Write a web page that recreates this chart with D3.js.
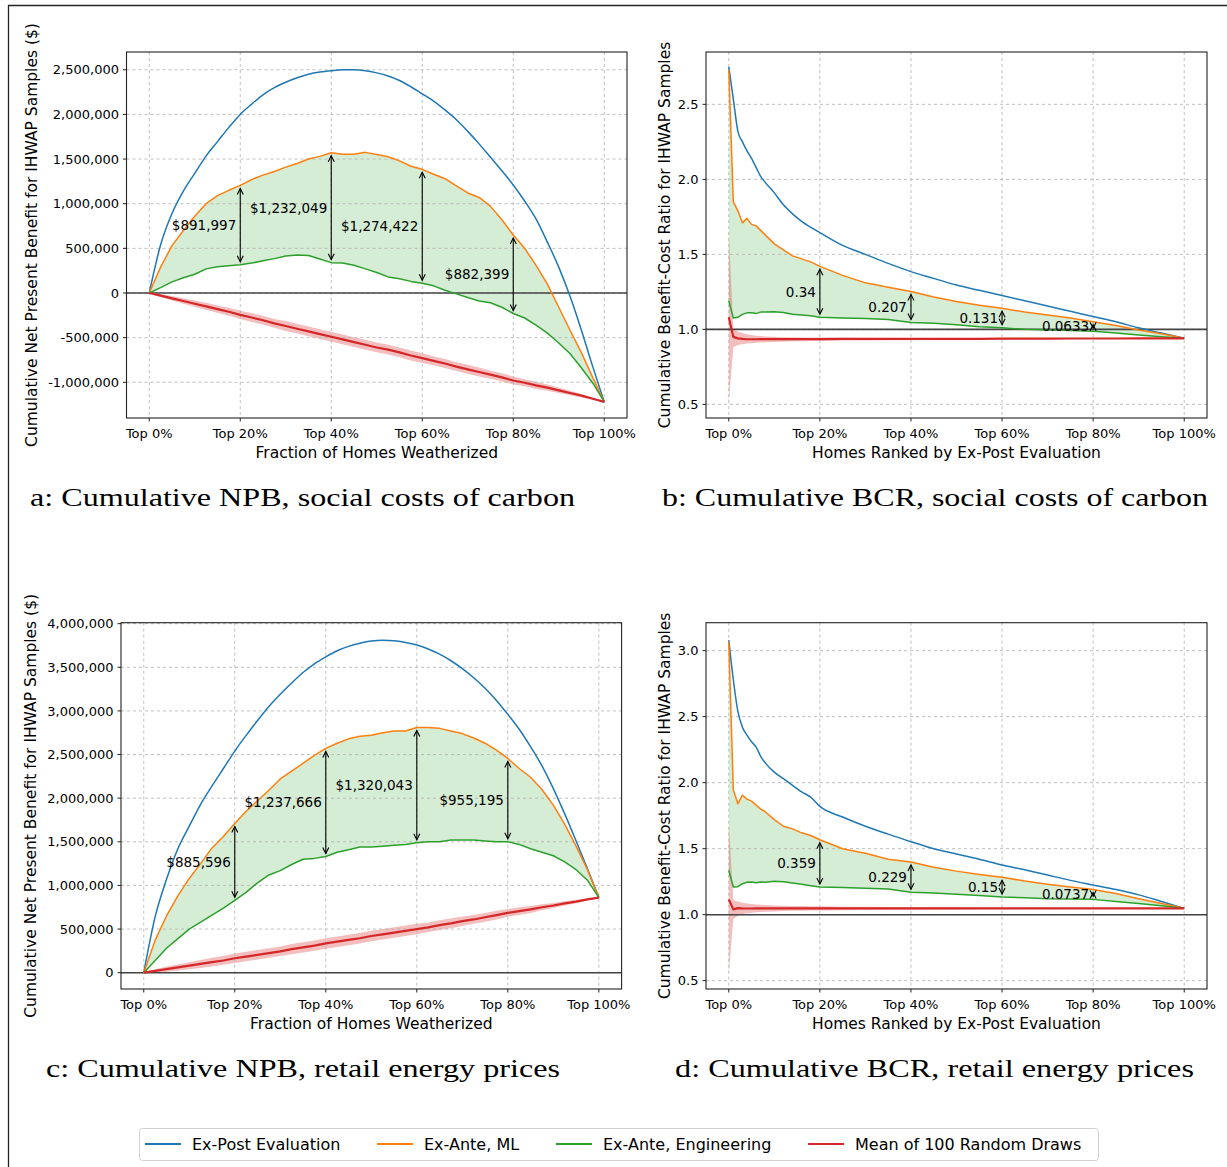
<!DOCTYPE html>
<html>
<head>
<meta charset="utf-8">
<script src="https://cdn.jsdelivr.net/npm/d3@7/dist/d3.min.js"></script>
<style>
    body { margin: 0; background: #fff; }
    svg text { font-family: "DejaVu Sans", sans-serif; fill: #000; }
</style>
</head>
<body>
<svg id="chart" width="1227" height="1167"></svg>
<script>
// x positions (share of homes, %) for the NPB panels
var pctNpb = [0, 2.5, 5, 7.5, 10, 12.5, 15, 17.5, 20, 22.5,
    25, 27.5, 30, 32.5, 35, 37.5, 40, 42.5, 45, 47.5,
    50, 52.5, 55, 57.5, 60, 62.5, 65, 67.5, 70, 72.5,
    75, 77.5, 80, 82.5, 85, 87.5, 90, 92.5, 95, 97.5,
    100];
// x positions for the BCR panels (denser near the top homes)
var pctBcr = [0, 1, 2, 3, 4, 5, 6, 7, 8, 10,
    12, 14, 16, 18, 20, 25, 30, 35, 40, 45,
    50, 55, 60, 65, 70, 75, 80, 85, 90, 95,
    100];

// a: cumulative NPB, social costs of carbon (million $)
var npbScc_expost = [0, 0.54, 0.89, 1.14, 1.34, 1.535, 1.695, 1.855, 2.00, 2.115,
    2.22, 2.30, 2.36, 2.41, 2.45, 2.475, 2.49, 2.50, 2.50, 2.49,
    2.465, 2.43, 2.38, 2.31, 2.23, 2.15, 2.05, 1.94, 1.81, 1.67,
    1.52, 1.37, 1.21, 1.03, 0.83, 0.57, 0.29, -0.04, -0.42, -0.83,
    -1.22];
var npbScc_ml = [0, 0.29, 0.53, 0.70, 0.86, 1.00, 1.09, 1.15, 1.205, 1.27,
    1.32, 1.36, 1.41, 1.45, 1.50, 1.53, 1.57, 1.555, 1.555, 1.575,
    1.55, 1.525, 1.48, 1.42, 1.385, 1.33, 1.28, 1.20, 1.12, 1.07,
    0.97, 0.82, 0.65, 0.50, 0.31, 0.10, -0.16, -0.42, -0.67, -0.95,
    -1.22];
var npbScc_eng = [0, 0.06, 0.125, 0.17, 0.21, 0.27, 0.295, 0.305, 0.317, 0.335,
    0.36, 0.385, 0.414, 0.425, 0.42, 0.38, 0.34, 0.335, 0.31, 0.27,
    0.23, 0.18, 0.16, 0.13, 0.11, 0.08, 0.03, -0.01, -0.05, -0.09,
    -0.11, -0.16, -0.23, -0.28, -0.36, -0.45, -0.56, -0.68, -0.84, -1.01,
    -1.22];
var npbScc_rand = [0, -0.03, -0.06, -0.09, -0.12, -0.15, -0.18, -0.21, -0.245, -0.275,
    -0.305, -0.34, -0.37, -0.40, -0.43, -0.46, -0.49, -0.52, -0.55, -0.58,
    -0.61, -0.635, -0.665, -0.70, -0.73, -0.76, -0.79, -0.825, -0.855, -0.885,
    -0.915, -0.945, -0.98, -1.005, -1.035, -1.06, -1.09, -1.12, -1.15, -1.185,
    -1.22];
var npbScc_randSpread = [0, 0.015, 0.025, 0.03, 0.035, 0.04, 0.04, 0.045, 0.045, 0.05,
    0.05, 0.05, 0.055, 0.055, 0.055, 0.055, 0.055, 0.055, 0.055, 0.055,
    0.055, 0.055, 0.055, 0.055, 0.055, 0.05, 0.05, 0.05, 0.05, 0.05,
    0.045, 0.045, 0.045, 0.04, 0.04, 0.035, 0.03, 0.025, 0.02, 0.01,
    0];

// b: cumulative BCR, social costs of carbon
var bcrScc_expost = [2.75, 2.535, 2.32, 2.25, 2.19, 2.14, 2.08, 2.02, 1.98, 1.91,
    1.83, 1.77, 1.72, 1.68, 1.645, 1.56, 1.50, 1.44, 1.385, 1.34,
    1.295, 1.26, 1.225, 1.19, 1.155, 1.12, 1.085, 1.05, 1.01, 0.975,
    0.94];
var bcrScc_ml = [2.73, 1.85, 1.79, 1.71, 1.74, 1.70, 1.69, 1.66, 1.63, 1.57,
    1.53, 1.49, 1.47, 1.45, 1.42, 1.36, 1.31, 1.28, 1.252, 1.215,
    1.185, 1.16, 1.141, 1.115, 1.095, 1.075, 1.051, 1.025, 0.995, 0.97,
    0.94];
var bcrScc_eng = [1.19, 1.075, 1.08, 1.10, 1.11, 1.11, 1.105, 1.115, 1.115, 1.118,
    1.112, 1.10, 1.095, 1.09, 1.08, 1.075, 1.073, 1.065, 1.045, 1.04,
    1.03, 1.018, 1.01, 1.0, 0.995, 0.992, 0.988, 0.975, 0.962, 0.95,
    0.94];
var bcrScc_rand = [1.08, 0.95, 0.94, 0.936, 0.934, 0.934, 0.934, 0.935, 0.935, 0.935,
    0.935, 0.935, 0.935, 0.935, 0.935, 0.936, 0.936, 0.936, 0.937, 0.937,
    0.937, 0.937, 0.938, 0.938, 0.938, 0.939, 0.939, 0.939, 0.94, 0.94,
    0.94];
var bcrScc_randLow = [0.51, 0.88, 0.895, 0.90, 0.905, 0.908, 0.91, 0.912, 0.914, 0.916,
    0.918, 0.92, 0.921, 0.922, 0.923, 0.925, 0.926, 0.927, 0.928, 0.929,
    0.93, 0.931, 0.932, 0.933, 0.934, 0.935, 0.936, 0.937, 0.938, 0.939,
    0.94];
var bcrScc_randHigh = [1.64, 1.00, 0.985, 0.975, 0.968, 0.962, 0.958, 0.955, 0.953, 0.95,
    0.948, 0.947, 0.946, 0.945, 0.945, 0.944, 0.943, 0.943, 0.942, 0.942,
    0.942, 0.942, 0.942, 0.942, 0.942, 0.942, 0.941, 0.941, 0.941, 0.94,
    0.94];

// c: cumulative NPB, retail energy prices (million $)
var npbRetail_expost = [0, 0.64, 1.07, 1.42, 1.68, 1.93, 2.14, 2.34, 2.54, 2.72,
    2.89, 3.05, 3.19, 3.32, 3.44, 3.54, 3.62, 3.69, 3.74, 3.775,
    3.80, 3.81, 3.805, 3.785, 3.755, 3.71, 3.65, 3.575, 3.485, 3.38,
    3.26, 3.12, 2.96, 2.79, 2.59, 2.37, 2.11, 1.82, 1.51, 1.19,
    0.86];
var npbRetail_ml = [0, 0.37, 0.65, 0.88, 1.08, 1.25, 1.43, 1.56, 1.71, 1.85,
    1.97, 2.09, 2.22, 2.31, 2.40, 2.49, 2.57, 2.63, 2.68, 2.71,
    2.72, 2.75, 2.77, 2.77, 2.81, 2.81, 2.80, 2.77, 2.74, 2.69,
    2.63, 2.55, 2.455, 2.34, 2.24, 2.10, 1.92, 1.70, 1.45, 1.18,
    0.86];
var npbRetail_eng = [0, 0.14, 0.28, 0.39, 0.50, 0.58, 0.66, 0.74, 0.83, 0.92,
    1.03, 1.12, 1.17, 1.24, 1.30, 1.31, 1.332, 1.38, 1.41, 1.44,
    1.44, 1.45, 1.46, 1.47, 1.49, 1.50, 1.50, 1.52, 1.52, 1.52,
    1.51, 1.50, 1.50, 1.47, 1.42, 1.38, 1.34, 1.27, 1.18, 1.06,
    0.86];
var npbRetail_rand = [0, 0.02, 0.04, 0.06, 0.08, 0.10, 0.12, 0.14, 0.165, 0.185,
    0.205, 0.225, 0.245, 0.27, 0.29, 0.31, 0.335, 0.355, 0.375, 0.395,
    0.42, 0.44, 0.46, 0.48, 0.50, 0.52, 0.545, 0.565, 0.59, 0.61,
    0.635, 0.66, 0.685, 0.705, 0.725, 0.75, 0.77, 0.795, 0.815, 0.84,
    0.86];
var npbRetail_randSpread = [0, 0.02, 0.03, 0.035, 0.04, 0.045, 0.05, 0.05, 0.055, 0.055,
    0.055, 0.055, 0.055, 0.06, 0.06, 0.06, 0.06, 0.06, 0.06, 0.06,
    0.06, 0.06, 0.06, 0.06, 0.06, 0.055, 0.055, 0.055, 0.055, 0.05,
    0.05, 0.05, 0.045, 0.045, 0.04, 0.035, 0.03, 0.025, 0.02, 0.01,
    0];

// d: cumulative BCR, retail energy prices
var bcrRetail_expost = [3.08, 2.78, 2.54, 2.42, 2.36, 2.31, 2.27, 2.20, 2.15, 2.08,
    2.03, 1.98, 1.93, 1.89, 1.82, 1.74, 1.67, 1.61, 1.553, 1.50,
    1.46, 1.42, 1.376, 1.34, 1.30, 1.26, 1.225, 1.19, 1.15, 1.10,
    1.048];
var bcrRetail_ml = [3.07, 1.945, 1.84, 1.905, 1.875, 1.86, 1.83, 1.80, 1.78, 1.72,
    1.67, 1.65, 1.62, 1.60, 1.568, 1.50, 1.465, 1.42, 1.399, 1.36,
    1.33, 1.305, 1.284, 1.255, 1.23, 1.21, 1.19, 1.16, 1.12, 1.085,
    1.048];
var bcrRetail_eng = [1.335, 1.21, 1.212, 1.235, 1.245, 1.248, 1.242, 1.248, 1.245, 1.253,
    1.25, 1.24, 1.23, 1.22, 1.21, 1.205, 1.20, 1.195, 1.17, 1.165,
    1.155, 1.145, 1.134, 1.128, 1.12, 1.118, 1.116, 1.10, 1.085, 1.068,
    1.048];
var bcrRetail_rand = [1.115, 1.04, 1.05, 1.048, 1.047, 1.047, 1.048, 1.048, 1.048, 1.048,
    1.048, 1.048, 1.048, 1.048, 1.048, 1.048, 1.048, 1.048, 1.048, 1.048,
    1.048, 1.048, 1.048, 1.048, 1.048, 1.048, 1.048, 1.048, 1.048, 1.048,
    1.048];
var bcrRetail_randLow = [0.55, 0.97, 0.99, 1.005, 1.01, 1.015, 1.018, 1.02, 1.022, 1.025,
    1.027, 1.029, 1.03, 1.031, 1.032, 1.034, 1.036, 1.037, 1.038, 1.039,
    1.04, 1.041, 1.042, 1.043, 1.044, 1.045, 1.046, 1.046, 1.047, 1.047,
    1.048];
var bcrRetail_randHigh = [1.69, 1.11, 1.10, 1.09, 1.085, 1.08, 1.077, 1.075, 1.073, 1.07,
    1.068, 1.066, 1.065, 1.064, 1.063, 1.061, 1.06, 1.059, 1.058, 1.057,
    1.056, 1.055, 1.054, 1.053, 1.052, 1.051, 1.05, 1.05, 1.049, 1.049,
    1.048];

// gap annotations (ML minus engineering)
var gapPct = [20, 40, 60, 80];
var gapNpbScc = ["$891,997", "$1,232,049", "$1,274,422", "$882,399"];
var gapBcrScc = ["0.34", "0.207", "0.131", "0.0633"];
var gapNpbRetail = ["$885,596", "$1,237,666", "$1,320,043", "$955,195"];
var gapBcrRetail = ["0.359", "0.229", "0.15", "0.0737"];

var xTicks = [0, 20, 40, 60, 80, 100];
var yTicksNpbScc = [-1, -0.5, 0, 0.5, 1, 1.5, 2, 2.5];
var yTicksNpbRetail = [0, 0.5, 1, 1.5, 2, 2.5, 3, 3.5, 4];
var yTicksBcrScc = [0.5, 1, 1.5, 2, 2.5];
var yTicksBcrRetail = [0.5, 1, 1.5, 2, 2.5, 3];

var seriesNames = ["Ex-Post Evaluation", "Ex-Ante, ML", "Ex-Ante, Engineering", "Mean of 100 Random Draws"];
var seriesColors = ["#1f77b4", "#ff7f0e", "#2ca02c", "#d62728"];

var svg = d3.select("#chart");
svg.append("rect").attr("width", 1227).attr("height", 1167).attr("fill", "#fff");
// outer frame (left and top edges only are visible)
svg.append("path").attr("d", "M8.5,1167V5.5H1227")
    .attr("fill", "none").attr("stroke", "#222").attr("stroke-width", 1.3);

var fmtMoney = d3.format(",");

function drawPanel(p) {
    var x = d3.scaleLinear().domain([-5, 105]).range([p.left, p.right]);
    var y = d3.scaleLinear().domain(p.yDomain).range([p.bottom, p.top]);
    var g = svg.append("g");
    var pct = p.pct;

    var lo = [], hi = [];
    for (var i = 0; i < pct.length; i++) {
        if (p.spread) {
            lo.push(p.rand[i] - p.spread[i]);
            hi.push(p.rand[i] + p.spread[i]);
        } else {
            lo.push(p.low[i]);
            hi.push(p.high[i]);
        }
    }

    // green fill between ML and engineering
    var gap = d3.area()
        .x(function (d, i) { return x(pct[i]); })
        .y0(function (d, i) { return y(p.eng[i]); })
        .y1(function (d, i) { return y(p.ml[i]); });
    g.append("path").attr("d", gap(pct)).attr("fill", "#2ca02c").attr("fill-opacity", 0.2);

    // random draw band
    var band = d3.area()
        .x(function (d, i) { return x(pct[i]); })
        .y0(function (d, i) { return y(lo[i]); })
        .y1(function (d, i) { return y(hi[i]); });
    g.append("path").attr("d", band(pct)).attr("fill", "#d62728").attr("fill-opacity", 0.3);

    // grid
    g.selectAll(".gx").data(xTicks).enter().append("line")
        .attr("x1", function (d) { return x(d); }).attr("x2", function (d) { return x(d); })
        .attr("y1", p.top).attr("y2", p.bottom)
        .attr("stroke", "#b0b0b0").attr("stroke-width", 0.8).attr("stroke-dasharray", "3,3");
    g.selectAll(".gy").data(p.yTicks).enter().append("line")
        .attr("x1", p.left).attr("x2", p.right)
        .attr("y1", function (d) { return y(d); }).attr("y2", function (d) { return y(d); })
        .attr("stroke", "#b0b0b0").attr("stroke-width", 0.8).attr("stroke-dasharray", "3,3");

    // reference line (0 for NPB, 1 for BCR)
    g.append("line").attr("x1", p.left).attr("x2", p.right)
        .attr("y1", y(p.refLine)).attr("y2", y(p.refLine))
        .attr("stroke", "#444").attr("stroke-width", 1.6);

    var series = [p.expost, p.ml, p.eng, p.rand];
    series.forEach(function (vals, k) {
        var line = d3.line()
            .x(function (d, i) { return x(pct[i]); })
            .y(function (d) { return y(d); })
            .curve(k === 0 ? d3.curveMonotoneX : d3.curveLinear);
        g.append("path").attr("d", line(vals))
            .attr("fill", "none")
            .attr("stroke", seriesColors[k])
            .attr("stroke-width", k === 3 ? 2.2 : 1.5)
            .attr("stroke-linejoin", "round");
    });

    // double headed arrows with the ML - engineering gap
    gapPct.forEach(function (pc, k) {
        var idx = pct.indexOf(pc);
        var ax = x(pc);
        var yTop = y(p.ml[idx]) + 3;
        var yBot = y(p.eng[idx]) - 3;
        var ag = g.append("g").attr("stroke", "#000").attr("stroke-width", 1.1).attr("fill", "none");
        ag.append("line").attr("x1", ax).attr("x2", ax).attr("y1", yTop).attr("y2", yBot);
        ag.append("path").attr("d", "M" + (ax - 3) + "," + (yTop + 6) + "L" + ax + "," + yTop + "L" + (ax + 3) + "," + (yTop + 6));
        ag.append("path").attr("d", "M" + (ax - 3) + "," + (yBot - 6) + "L" + ax + "," + yBot + "L" + (ax + 3) + "," + (yBot - 6));
        g.append("text")
            .attr("x", ax - 4)
            .attr("y", (y(p.ml[idx]) + y(p.eng[idx])) / 2)
            .attr("dy", "0.36em")
            .attr("text-anchor", "end")
            .style("font-size", "13.5px")
            .text(p.gapLabels[k]);
    });

    // frame
    g.append("rect").attr("x", p.left).attr("y", p.top)
        .attr("width", p.right - p.left).attr("height", p.bottom - p.top)
        .attr("fill", "none").attr("stroke", "#222").attr("stroke-width", 1.1);

    // x ticks
    xTicks.forEach(function (t) {
        g.append("line").attr("x1", x(t)).attr("x2", x(t))
            .attr("y1", p.bottom).attr("y2", p.bottom + 3.5).attr("stroke", "#222");
        g.append("text").attr("x", x(t)).attr("y", p.bottom + 15.5).attr("dy", "0.36em")
            .attr("text-anchor", "middle").style("font-size", "13px")
            .text("Top " + t + "%");
    });
    // y ticks
    p.yTicks.forEach(function (t) {
        g.append("line").attr("x1", p.left - 3.5).attr("x2", p.left)
            .attr("y1", y(t)).attr("y2", y(t)).attr("stroke", "#222");
        g.append("text").attr("x", p.left - 7.5).attr("y", y(t)).attr("dy", "0.36em")
            .attr("text-anchor", "end").style("font-size", "13px")
            .text(p.tickFormat(t));
    });

    g.append("text").attr("x", (p.left + p.right) / 2).attr("y", p.bottom + 34).attr("dy", "0.36em")
        .attr("text-anchor", "middle").style("font-size", "15.5px").text(p.xLabel);
    g.append("text")
        .attr("transform", "translate(" + p.yLabelX + "," + (p.top + p.bottom) / 2 + ") rotate(-90)")
        .attr("dy", "0.36em")
        .attr("text-anchor", "middle").style("font-size", "15.5px").text(p.yLabel);

    // caption under the panel
    svg.append("text")
        .attr("x", p.capX).attr("y", p.capY)
        .attr("textLength", p.capW).attr("lengthAdjust", "spacingAndGlyphs")
        .style("font-family", "'Liberation Serif', 'DejaVu Serif', serif")
        .style("font-size", "24.5px")
        .text(p.caption);
}

function npbFormat(t) { return fmtMoney(Math.round(t * 1e6)).replace("\u2212", "-"); }
function bcrFormat(t) { return d3.format(".1f")(t); }

drawPanel({
    left: 126.5, right: 627, top: 52, bottom: 418, yDomain: [-1.40, 2.699],
    pct: pctNpb, expost: npbScc_expost, ml: npbScc_ml, eng: npbScc_eng,
    rand: npbScc_rand, spread: npbScc_randSpread,
    yTicks: yTicksNpbScc, tickFormat: npbFormat, refLine: 0, gapLabels: gapNpbScc,
    xLabel: "Fraction of Homes Weatherized",
    yLabel: "Cumulative Net Present Benefit for IHWAP Samples ($)", yLabelX: 31,
    caption: "a: Cumulative NPB, social costs of carbon", capX: 30, capY: 506, capW: 545
});
drawPanel({
    left: 706, right: 1207, top: 52, bottom: 418, yDomain: [0.409, 2.849],
    pct: pctBcr, expost: bcrScc_expost, ml: bcrScc_ml, eng: bcrScc_eng,
    rand: bcrScc_rand, low: bcrScc_randLow, high: bcrScc_randHigh,
    yTicks: yTicksBcrScc, tickFormat: bcrFormat, refLine: 1, gapLabels: gapBcrScc,
    xLabel: "Homes Ranked by Ex-Post Evaluation",
    yLabel: "Cumulative Benefit-Cost Ratio for IHWAP Samples", yLabelX: 664,
    caption: "b: Cumulative BCR, social costs of carbon", capX: 662, capY: 506, capW: 546
});
drawPanel({
    left: 121, right: 621.6, top: 622.7, bottom: 989, yDomain: [-0.187, 4.011],
    pct: pctNpb, expost: npbRetail_expost, ml: npbRetail_ml, eng: npbRetail_eng,
    rand: npbRetail_rand, spread: npbRetail_randSpread,
    yTicks: yTicksNpbRetail, tickFormat: npbFormat, refLine: 0, gapLabels: gapNpbRetail,
    xLabel: "Fraction of Homes Weatherized",
    yLabel: "Cumulative Net Present Benefit for IHWAP Samples ($)", yLabelX: 30,
    caption: "c: Cumulative NPB, retail energy prices", capX: 46, capY: 1077, capW: 514
});
drawPanel({
    left: 706, right: 1207, top: 622.7, bottom: 989, yDomain: [0.437, 3.212],
    pct: pctBcr, expost: bcrRetail_expost, ml: bcrRetail_ml, eng: bcrRetail_eng,
    rand: bcrRetail_rand, low: bcrRetail_randLow, high: bcrRetail_randHigh,
    yTicks: yTicksBcrRetail, tickFormat: bcrFormat, refLine: 1, gapLabels: gapBcrRetail,
    xLabel: "Homes Ranked by Ex-Post Evaluation",
    yLabel: "Cumulative Benefit-Cost Ratio for IHWAP Samples", yLabelX: 664,
    caption: "d: Cumulative BCR, retail energy prices", capX: 675, capY: 1077, capW: 519
});

// legend
var legend = svg.append("g");
legend.append("rect").attr("x", 139.5).attr("y", 1128.5).attr("width", 959).attr("height", 32)
    .attr("rx", 3).attr("fill", "#fff").attr("stroke", "#d0d0d0");
var legendX = [145, 377, 556, 808];
seriesNames.forEach(function (name, k) {
    legend.append("line").attr("x1", legendX[k]).attr("x2", legendX[k] + 36)
        .attr("y1", 1144).attr("y2", 1144)
        .attr("stroke", seriesColors[k]).attr("stroke-width", 2.2);
    legend.append("text").attr("x", legendX[k] + 47).attr("y", 1144).attr("dy", "0.36em")
        .style("font-size", "16px").text(name);
});
</script>
</body>
</html>
